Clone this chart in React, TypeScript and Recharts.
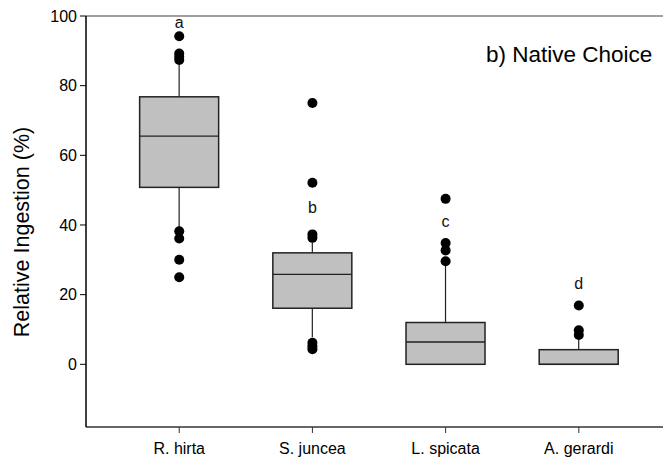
import React from "react";
import {
  ComposedChart,
  Bar,
  Scatter,
  XAxis,
  YAxis,
  ReferenceLine,
  Customized,
} from "recharts";

const categories = ["R. hirta", "S. juncea", "L. spicata", "A. gerardi"];
const whiskerLow = [38.9, 7.8, 0, 0];
const q1 = [50.8, 16.1, 0, 0];
const median = [65.5, 25.8, 6.4, 0];
const q3 = [76.8, 32.0, 12.0, 4.2];
const whiskerHigh = [86.0, 35.0, 28.4, 7.0];
const outliers = [
  [94.2, 89.2, 88.3, 87.4, 38.2, 36.1, 30.0, 25.0],
  [75.0, 52.1, 37.3, 36.3, 6.2, 5.2, 4.3],
  [47.5, 34.8, 32.7, 29.6],
  [16.9, 9.8, 8.4],
];
const groupLetters = ["a", "b", "c", "d"];
const letterY = [98.2, 44.9, 41.1, 23.2];
const yTicks = [0, 20, 40, 60, 80, 100];

const FONT = "'Liberation Sans', Arial, sans-serif";

const boxRows = categories.map((name, i) => ({
  x: i + 1,
  name,
  lo: whiskerLow[i],
  q1: q1[i],
  med: median[i],
  q3: q3[i],
  hi: whiskerHigh[i],
}));

const outlierPoints = outliers.flatMap((vals, i) =>
  vals.map((v) => ({ x: i + 1, y: v }))
);

const letterPoints = groupLetters.map((letter, i) => ({
  x: i + 1,
  y: letterY[i],
  letter,
}));

// box + whiskers, pixel positions derived from the bar's own q1..q3 span
const BoxShape = (props: any) => {
  const { x, y, width, height, payload } = props;
  const top = Math.min(y, y + height);
  const h = Math.abs(height);
  const ppu = h / (payload.q3 - payload.q1);
  const toY = (v: number) => top + (payload.q3 - v) * ppu;
  const cx = x + width / 2;
  return (
    <g>
      <line x1={cx} x2={cx} y1={toY(payload.hi)} y2={top} stroke="#222" strokeWidth={1.2} />
      <line x1={cx} x2={cx} y1={top + h} y2={toY(payload.lo)} stroke="#222" strokeWidth={1.2} />
      <rect x={x} y={top} width={width} height={h} fill="#c0c0c0" stroke="#222" strokeWidth={1.5} />
      <line x1={x} x2={x + width} y1={toY(payload.med)} y2={toY(payload.med)} stroke="#222" strokeWidth={1.3} />
    </g>
  );
};

const Dot = (props: any) => <circle cx={props.cx} cy={props.cy} r={5} fill="#000" />;

const Letter = (props: any) => (
  <text
    x={props.cx}
    y={props.cy}
    textAnchor="middle"
    dominantBaseline="central"
    fontSize={16}
    fontFamily={FONT}
    fill="#111"
  >
    {props.payload.letter}
  </text>
);

const Titles = () => (
  <g fontFamily={FONT} fill="#000">
    <text x={486} y={62} fontSize={22.5}>
      b) Native Choice
    </text>
    <text
      x={0}
      y={0}
      fontSize={21.5}
      textAnchor="middle"
      dominantBaseline="central"
      transform="translate(22 232) rotate(-90)"
    >
      Relative Ingestion (%)
    </text>
  </g>
);

export default function App() {
  // plot runs off the right edge, the frame's right side is not shown
  return (
    <div style={{ width: 671, height: 465, background: "#fff", margin: -8, overflow: "hidden" }}>
      <ComposedChart
        width={720}
        height={465}
        data={boxRows}
        margin={{ top: 16, right: 20, bottom: 0, left: 0 }}
      >
        <XAxis
          dataKey="x"
          type="number"
          domain={[0.3, 4.91]}
          ticks={[1, 2, 3, 4]}
          allowDataOverflow
          tickFormatter={(v: number) => categories[v - 1] ?? ""}
          height={38}
          tickSize={6}
          tickMargin={10}
          axisLine={{ stroke: "#333", strokeWidth: 1.5 }}
          tickLine={{ stroke: "#333" }}
          tick={{ fontSize: 16, fontFamily: FONT, fill: "#000" }}
        />
        <YAxis
          type="number"
          domain={[-18, 100]}
          ticks={yTicks}
          allowDataOverflow
          width={86}
          tickSize={6}
          tickMargin={3}
          axisLine={{ stroke: "#000", strokeWidth: 1.5 }}
          tickLine={{ stroke: "#000" }}
          tick={{ fontSize: 16, fontFamily: FONT, fill: "#000" }}
        />
        <ReferenceLine y={100} stroke="#808080" strokeWidth={1.5} />
        <Bar
          dataKey={(d: any) => [d.q1, d.q3]}
          barSize={79}
          shape={BoxShape}
          isAnimationActive={false}
        />
        <Scatter data={outlierPoints} dataKey="y" shape={Dot} isAnimationActive={false} />
        <Scatter data={letterPoints} dataKey="y" shape={Letter} isAnimationActive={false} />
        <Customized component={Titles} />
      </ComposedChart>
    </div>
  );
}
